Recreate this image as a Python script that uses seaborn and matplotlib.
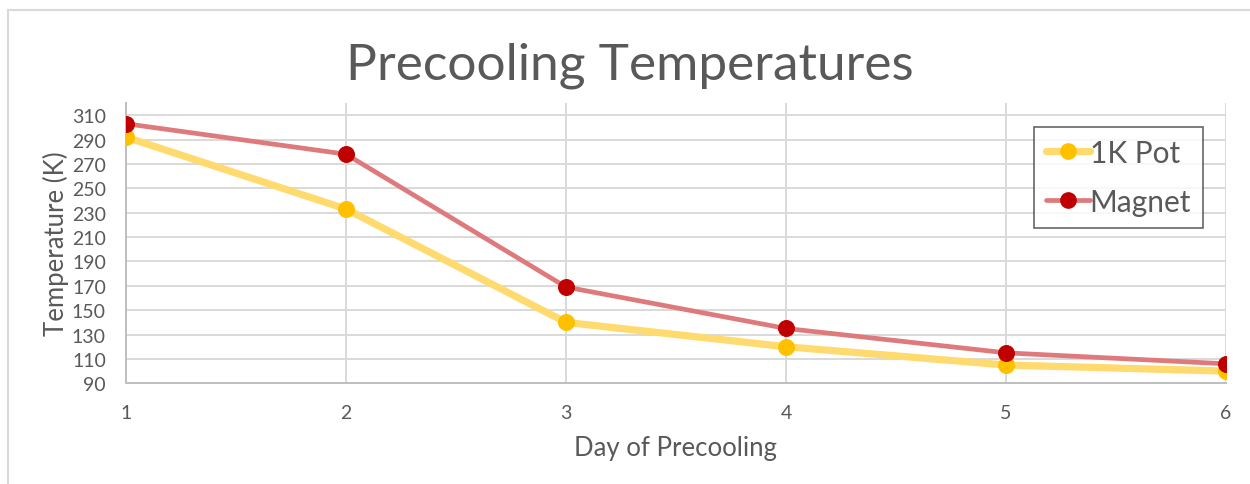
import matplotlib
matplotlib.use("Agg")
import matplotlib.pyplot as plt
from matplotlib.lines import Line2D
from matplotlib.patches import Rectangle
import seaborn as sns
import pandas as pd

# Daily temperatures during precooling (K)
days = [1, 2, 3, 4, 5, 6]
pot_1k = [292, 233, 140, 120, 105, 100]
magnet = [303, 278, 169, 135, 115, 106]
series_names = ["1K Pot", "Magnet"]
y_ticks = [90, 110, 130, 150, 170, 190, 210, 230, 250, 270, 290, 310]

df = pd.DataFrame({
    "Day": days * 2,
    "Temperature": pot_1k + magnet,
    "Series": [series_names[0]] * len(days) + [series_names[1]] * len(days),
})

sns.set_theme(style="white")
plt.rcParams["font.family"] = ["Lato", "DejaVu Sans"]

text_gray = "#595959"
grid_gray = "#D9D9D9"
line_colors = {"1K Pot": "#FFDA6E", "Magnet": "#DE7A7C"}
marker_colors = {"1K Pot": "#FFC000", "Magnet": "#C00000"}
line_widths = {"1K Pot": 5.2, "Magnet": 3.4}

fig = plt.figure(figsize=(12.5, 4.85), dpi=100)
ax = fig.add_axes([126 / 1250, 1 - 384.3 / 485, 1100 / 1250, (384.3 - 104) / 485])

# Light border around the chart area
fig.patches.append(Rectangle((7.5 / 1250, -0.1), 1.2, 1 - 10.5 / 485 + 0.1,
                             transform=fig.transFigure, fill=False,
                             edgecolor=grid_gray, lw=1.5, zorder=0))

for i, name in enumerate(series_names):
    sub = df[df["Series"] == name]
    sns.lineplot(data=sub, x="Day", y="Temperature", ax=ax,
                 color=line_colors[name], lw=line_widths[name],
                 legend=False, zorder=3 + 2 * i)
    sns.scatterplot(data=sub, x="Day", y="Temperature", ax=ax,
                    color=marker_colors[name], s=130, edgecolor=marker_colors[name],
                    linewidth=0.8, legend=False, zorder=4 + 2 * i)

ax.set_xlim(1, 6)
ax.set_ylim(90, 320)
ax.set_xticks(days)
ax.set_yticks(y_ticks)
ax.grid(True, color=grid_gray, lw=1.4)
ax.set_axisbelow(True)
for side in ["top", "right"]:
    ax.spines[side].set_visible(False)
for side in ["left", "bottom"]:
    ax.spines[side].set_color("#BFBFBF")
    ax.spines[side].set_linewidth(1.4)
ax.tick_params(axis="both", length=0, labelsize=14, labelcolor=text_gray)
ax.tick_params(axis="y", pad=14.5)
ax.tick_params(axis="x", pad=15)

ax.set_xlabel("Day of Precooling", fontsize=18.5, color=text_gray, labelpad=10)
ax.set_ylabel("Temperature (K)", fontsize=18.5, color=text_gray)
ax.yaxis.set_label_coords(-0.052, 0.5)

fig.text(0.504, 1 - 66 / 485, "Precooling Temperatures", fontsize=37,
         color=text_gray, ha="center", va="center")

handles = [
    Line2D([0], [0], color=line_colors[n], lw=line_widths[n], marker="o",
           markersize=11, markerfacecolor=marker_colors[n],
           markeredgecolor=marker_colors[n])
    for n in series_names
]
leg = ax.legend(handles, series_names, loc="upper right",
                bbox_to_anchor=(1203 / 1250, 1 - 128 / 485),
                bbox_transform=fig.transFigure, fontsize=21.5,
                labelcolor=text_gray, frameon=True, fancybox=False,
                handlelength=1.45, handletextpad=0.0, borderpad=0.4,
                labelspacing=0.7, borderaxespad=0)
leg.get_frame().set_edgecolor("#404040")
leg.get_frame().set_linewidth(1.2)

fig.savefig("out.png", dpi=100)
